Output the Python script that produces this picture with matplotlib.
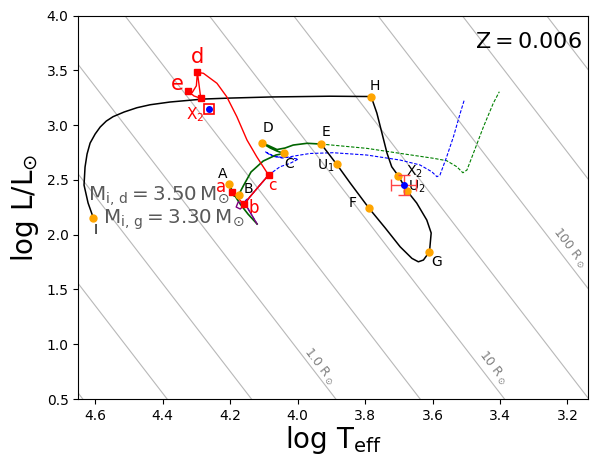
import numpy as np
import matplotlib
matplotlib.use("Agg")
import matplotlib.pyplot as plt

# ---------------- data (log Teff, log L) ----------------
LOGT_SUN = 3.7617
radius_logR = [-1.5, -1.0, -0.5, 0.0, 0.5, 1.0, 1.5, 2.0, 2.5, 3.0]
radius_labels = ["1.0 R$_\\odot$", "10 R$_\\odot$", "100 R$_\\odot$"]
radius_label_T = [3.936, 3.422, 3.195]
radius_label_L = [0.795, 0.789, 1.878]

# donor track after E (black)
black_T = [3.930, 3.884, 3.844, 3.788, 3.740, 3.696, 3.661, 3.642, 3.627, 3.609,
           3.604, 3.617, 3.647, 3.676, 3.701, 3.721, 3.735, 3.750, 3.765, 3.782,
           3.904, 4.081, 4.200, 4.280, 4.378, 4.437, 4.476, 4.514, 4.547, 4.567,
           4.585, 4.600, 4.615, 4.624, 4.630, 4.633, 4.621, 4.605]
black_L = [2.828, 2.643, 2.472, 2.241, 2.061, 1.890, 1.784, 1.753, 1.769, 1.845,
           2.016, 2.134, 2.290, 2.402, 2.536, 2.621, 2.746, 2.929, 3.111, 3.262,
           3.265, 3.258, 3.248, 3.239, 3.212, 3.187, 3.160, 3.121, 3.078, 3.038,
           2.984, 2.920, 2.837, 2.737, 2.618, 2.454, 2.290, 2.150]

# donor track up to E (dark green)
green_T = [4.120, 4.147, 4.170, 4.191, 4.203, 4.197, 4.188, 4.175, 4.161, 4.138,
           4.102, 4.064, 4.040, 4.061, 4.081, 4.105, 4.087, 4.061, 4.037, 4.013,
           3.972, 3.930]
green_L = [2.098, 2.189, 2.280, 2.381, 2.460, 2.399, 2.353, 2.363, 2.445, 2.573,
           2.673, 2.728, 2.742, 2.764, 2.792, 2.837, 2.815, 2.778, 2.792, 2.819,
           2.835, 2.828]

# single-star continuation (green dashed)
gdash_T = [3.930, 3.795, 3.696, 3.597, 3.558, 3.528, 3.510, 3.498, 3.479, 3.449, 3.420, 3.402]
gdash_L = [2.828, 2.789, 2.743, 2.698, 2.676, 2.621, 2.566, 2.591, 2.743, 2.986, 3.200, 3.306]

# single gainer-mass star (blue dashed)
bdash_T = [4.120, 4.141, 4.155, 4.164, 4.141, 4.116, 4.086, 4.052, 4.022, 3.998,
           4.028, 4.067, 4.096, 4.081, 4.046, 3.992, 3.963, 3.895, 3.795, 3.696,
           3.637, 3.602, 3.587, 3.578, 3.558, 3.538, 3.518, 3.506]
bdash_L = [2.098, 2.207, 2.280, 2.289, 2.347, 2.438, 2.545, 2.621, 2.652, 2.691,
           2.705, 2.712, 2.758, 2.728, 2.700, 2.728, 2.742, 2.749, 2.728, 2.682,
           2.637, 2.575, 2.530, 2.545, 2.712, 2.895, 3.109, 3.230]

# gainer early track (purple)
purple_T = [4.120, 4.141, 4.155, 4.160, 4.176, 4.182, 4.170, 4.158, 4.141, 4.116, 4.086]
purple_L = [2.098, 2.207, 2.280, 2.278, 2.299, 2.253, 2.235, 2.271, 2.347, 2.438, 2.545]

# gainer track (red)
red_T = [4.193, 4.160, 4.141, 4.116, 4.086, 4.121, 4.150, 4.180, 4.210, 4.239,
         4.279, 4.297, 4.292, 4.287, 4.307, 4.326, 4.312, 4.300, 4.297]
red_L = [2.393, 2.278, 2.347, 2.438, 2.545, 2.712, 2.865, 3.078, 3.260, 3.383,
         3.474, 3.483, 3.367, 3.246, 3.267, 3.315, 3.300, 3.360, 3.483]
red_pts_T = [4.193, 4.160, 4.086, 4.297, 4.326, 4.287]
red_pts_L = [2.393, 2.278, 2.545, 3.483, 3.315, 3.246]
red_names = ["a", "b", "c", "d", "e"]
red_lab_T = [4.227, 4.129, 4.075, 4.298, 4.357]
red_lab_L = [2.438, 2.244, 2.448, 3.623, 3.376]
red_lab_size = [12, 12, 11, 15, 15]

# black-letter points
pt_names = ["A", "B", "C", "D", "E", "F", "G", "H", "I", "U$_1$", "U$_2$", "X$_2$"]
pt_T = [4.203, 4.175, 4.040, 4.105, 3.930, 3.788, 3.609, 3.782, 4.605, 3.884, 3.676, 3.701]
pt_L = [2.460, 2.363, 2.742, 2.837, 2.828, 2.241, 1.845, 3.260, 2.150, 2.643, 2.402, 2.536]
lab_T = [4.221, 4.147, 4.025, 4.089, 3.915, 3.838, 3.589, 3.770, 4.600, 3.915, 3.646, 3.655]
lab_L = [2.554, 2.415, 2.643, 2.972, 2.941, 2.289, 1.751, 3.358, 2.043, 2.628, 2.436, 2.577]

# observed components
obs_donor_T, obs_donor_L = 3.686, 2.454
obs_donor_Terr, obs_donor_Lerr = 0.038, 0.09
obs_gainer_T, obs_gainer_L = 4.264, 3.148
obs_gainer_lab_T, obs_gainer_lab_L = 4.304, 3.093

mass_d_T, mass_d_L = 4.620, 2.310
mass_g_T, mass_g_L = 4.577, 2.104

# ---------------- figure ----------------
fig = plt.figure(figsize=(5.9, 4.57), dpi=100)
ax = fig.add_axes([0.1327, 0.1269, 0.8640, 0.8387])
ax.set_xlim(4.65, 3.139)
ax.set_ylim(0.5, 4.0)

Tgrid = np.array([3.0, 4.8])
for lr in radius_logR:
    ax.plot(Tgrid, 2 * lr + 4 * (Tgrid - LOGT_SUN), color="0.72", lw=0.8, zorder=1)
for lab, tt, ll in zip(radius_labels, radius_label_T, radius_label_L):
    ax.text(tt, ll, lab, color="0.5", fontsize=9, rotation=-52.4,
            rotation_mode="anchor", ha="center", va="center", zorder=2)

ax.plot(gdash_T, gdash_L, color="green", ls="--", lw=0.8, dashes=(3, 1.5), zorder=3)
ax.plot(bdash_T, bdash_L, color="blue", ls="--", lw=0.8, dashes=(3, 1.5), zorder=3)
ax.plot(green_T, green_L, color="darkgreen", lw=1.2, zorder=4)
ax.plot(purple_T, purple_L, color="purple", lw=1.0, zorder=4)
ax.plot(black_T, black_L, color="black", lw=1.1, zorder=4)
ax.plot(red_T, red_L, color="red", lw=1.0, zorder=5)
ax.plot(red_pts_T, red_pts_L, ls="none", marker="s", ms=4, color="red", zorder=6)

ax.plot(pt_T, pt_L, ls="none", marker="o", ms=5, color="orange", zorder=6)
for n, tt, ll in zip(pt_names, lab_T, lab_L):
    ax.text(tt, ll, n, fontsize=10, ha="center", va="center", color="black", zorder=7)
for n, tt, ll, fs in zip(red_names, red_lab_T, red_lab_L, red_lab_size):
    ax.text(tt, ll, n, fontsize=fs, ha="center", va="center", color="red", zorder=7)

ax.errorbar([obs_donor_T], [obs_donor_L], xerr=[obs_donor_Terr], yerr=[obs_donor_Lerr],
            fmt="o", ms=4, color="blue", ecolor="#ff4444", elinewidth=1.0, capsize=4,
            zorder=8)
ax.plot([obs_gainer_T], [obs_gainer_L], marker="s", ms=7, mfc="none", mec="red",
        mew=1.2, ls="none", zorder=8)
ax.plot([obs_gainer_T], [obs_gainer_L], marker="o", ms=4, color="blue", ls="none", zorder=9)
ax.text(obs_gainer_lab_T, obs_gainer_lab_L, "X$_2$", color="red", fontsize=11,
        ha="center", va="center", zorder=7)

ax.text(mass_d_T, mass_d_L, r"$\mathrm{M_{i,\,d} = 3.50\,M_{\odot}}$", fontsize=14.3,
        color="0.35", ha="left", va="baseline", zorder=7)
ax.text(mass_g_T, mass_g_L, r"$\mathrm{M_{i,\,g} = 3.30\,M_{\odot}}$", fontsize=14.3,
        color="0.35", ha="left", va="baseline", zorder=7)

ax.text(0.988, 0.931, r"$\mathrm{Z = 0.006}$", transform=ax.transAxes, fontsize=16,
        ha="right", va="center")

ax.set_xticks([4.6, 4.4, 4.2, 4.0, 3.8, 3.6, 3.4, 3.2])
ax.set_yticks([0.5, 1.0, 1.5, 2.0, 2.5, 3.0, 3.5, 4.0])
ax.tick_params(labelsize=10)
ax.set_xlabel(r"$\log\,\mathrm{T_{eff}}$", fontsize=20, labelpad=1)
ax.set_ylabel(r"$\log\,\mathrm{L/L_{\odot}}$", fontsize=20)

fig.savefig("out.png", dpi=100)
